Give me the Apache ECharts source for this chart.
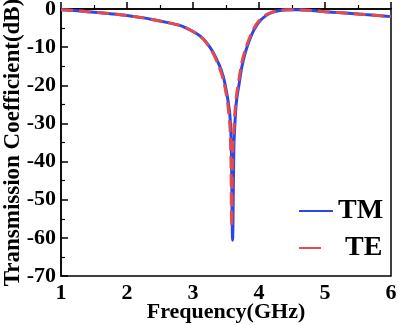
<!DOCTYPE html>
<html>
<head>
<meta charset="utf-8">
<script src="https://cdn.jsdelivr.net/npm/echarts@6/dist/echarts.min.js"></script>
<style>html,body{margin:0;padding:0;background:#fff}#c{width:400px;height:325px}</style>
</head>
<body>
<div id="c"></div>
<script>
const freqTM = [1.0,1.2,1.4,1.6,1.8,2.0,2.2,2.4,2.6,2.8,2.9,3.0,3.1,3.2,3.3,3.4,3.46,3.5,3.53,3.56,3.58,3.6,3.62,3.64,3.66,3.7,3.74,3.8,3.86,3.92,4.0,4.1,4.2,4.3,4.4,4.5,4.6,4.8,5.0,5.2,5.4,5.6,5.8,6.0];
const tm = [-0.2,-0.4,-0.7,-1.0,-1.3,-1.7,-2.2,-2.8,-3.5,-4.3,-5.0,-5.9,-7.0,-8.7,-11.2,-14.8,-17.8,-21,-24,-28,-36,-60.6,-36,-28.5,-24,-19.5,-15.2,-11,-8.0,-5.6,-3.4,-1.8,-0.9,-0.45,-0.25,-0.2,-0.22,-0.4,-0.7,-0.95,-1.2,-1.45,-1.7,-2.0];
const freqTE = [1.0,1.2,1.4,1.6,1.8,2.0,2.2,2.4,2.6,2.8,2.9,3.0,3.1,3.2,3.3,3.4,3.46,3.5,3.53,3.56,3.575,3.585,3.6,3.62,3.64,3.66,3.7,3.74,3.8,3.86,3.92,4.0,4.1,4.2,4.3,4.4,4.5,4.6,4.8,5.0,5.2,5.4,5.6,5.8,6.0];
const te = [-0.2,-0.4,-0.7,-1.0,-1.3,-1.7,-2.2,-2.8,-3.5,-4.3,-5.0,-5.9,-7.0,-8.8,-11.5,-15.3,-18.6,-22,-25.5,-31,-40,-57,-38,-31,-26,-22.5,-18,-14,-10.3,-7.4,-5.1,-3.1,-1.6,-0.8,-0.4,-0.22,-0.2,-0.22,-0.4,-0.7,-0.95,-1.2,-1.45,-1.7,-2.0];
const seriesNames = ['TM','TE'];
const xTicks = [1,2,3,4,5,6];
const yTicks = [0,-10,-20,-30,-40,-50,-60,-70];

const font = 'Liberation Serif';
const blue = '#2d46e6', red = '#e34b4f';
const chart = echarts.init(document.getElementById('c'), null, {renderer:'canvas'});
chart.setOption({
  animation:false,
  grid:{left:61,right:9,top:9,bottom:49,show:true,borderColor:'#000',borderWidth:1.5,outerBoundsMode:'none',containLabel:false},
  legend:{
    orient:'vertical', left:293, top:192, itemGap:9, itemWidth:34, itemHeight:14,
    itemStyle:{opacity:0},
    formatter:function(n){return n==='TE' ? ' TE' : n;},
    textStyle:{fontFamily:font,fontWeight:'bold',fontSize:28,color:'#000'},
    data:[{name:seriesNames[0]},{name:seriesNames[1],lineStyle:{type:[22,30]}}]
  },
  xAxis:{
    type:'value', min:xTicks[0], max:xTicks[xTicks.length-1], interval:1,
    name:'Frequency(GHz)', nameLocation:'middle', nameGap:25, nameMoveOverlap:false,
    nameTextStyle:{fontFamily:font,fontWeight:'bold',fontSize:22,color:'#000',verticalAlign:'top'},
    axisLine:{lineStyle:{color:'#000',width:1.5}},
    axisTick:{inside:true,length:7,lineStyle:{color:'#000',width:1.5}},
    minorTick:{show:true,splitNumber:2,length:4,lineStyle:{color:'#000',width:1.2}},
    splitLine:{show:false},
    axisLabel:{fontFamily:font,fontWeight:'bold',fontSize:22,color:'#000',margin:6}
  },
  yAxis:{
    type:'value', min:yTicks[yTicks.length-1], max:yTicks[0], interval:10,
    name:'Transmission Coefficient(dB)', nameLocation:'middle', nameGap:36, nameMoveOverlap:false,
    nameTextStyle:{fontFamily:font,fontWeight:'bold',fontSize:23,color:'#000'},
    axisLine:{lineStyle:{color:'#000',width:1.5}},
    axisTick:{inside:true,length:7,lineStyle:{color:'#000',width:1.5}},
    minorTick:{show:true,splitNumber:2,length:4,lineStyle:{color:'#000',width:1.2}},
    splitLine:{show:false},
    axisLabel:{fontFamily:font,fontWeight:'bold',fontSize:22,color:'#000',margin:5}
  },
  series:[
    {name:seriesNames[0],type:'line',showSymbol:false,symbol:'none',smooth:0.3,
     data:freqTM.map((f,i)=>[f,tm[i]]),
     lineStyle:{color:blue,width:3},itemStyle:{color:blue}},
    {name:seriesNames[1],type:'line',showSymbol:false,symbol:'none',smooth:0.3,
     data:freqTE.map((f,i)=>[f,te[i]]),
     lineStyle:{color:red,width:3,type:[12,6]},itemStyle:{color:red}}
  ]
});
</script>
</body>
</html>
